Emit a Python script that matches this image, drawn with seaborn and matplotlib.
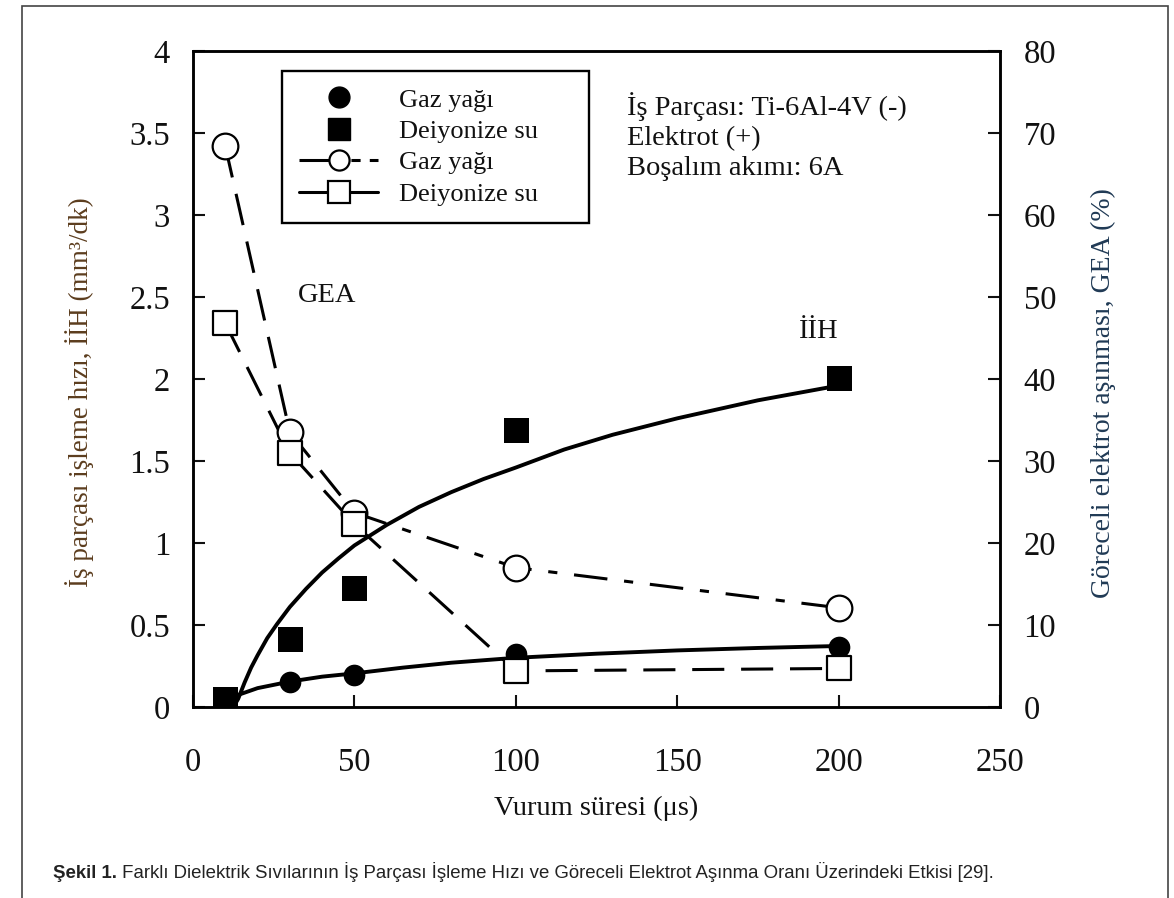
import matplotlib
matplotlib.use('Agg')
import matplotlib.pyplot as plt
from matplotlib.lines import Line2D
from matplotlib.patches import Rectangle
from matplotlib import font_manager
import seaborn as sns

# values
pulse_us = [10, 30, 50, 100, 200]
iih_gaz = [0.03, 0.155, 0.197, 0.323, 0.368]   # mm3/dk, filled circles
iih_su = [0.05, 0.415, 0.725, 1.69, 2.004]     # mm3/dk, filled squares
gea_gaz = [68.4, 33.5, 23.7, 17.0, 12.1]       # %, open circles
gea_su = [46.8, 31.0, 22.3, 4.4, 4.7]          # %, open squares

# trend curves through the IIH points
fit_su_x = [12.5, 14, 16, 18, 20, 23, 26, 30, 35, 40, 45, 50, 60, 70, 80, 90, 100,
            115, 130, 150, 175, 200]
fit_su_y = [0.0, 0.05, 0.15, 0.24, 0.315, 0.42, 0.505, 0.61, 0.72, 0.82, 0.905, 0.985,
            1.11, 1.22, 1.31, 1.39, 1.46, 1.57, 1.66, 1.76, 1.87, 1.96]
fit_gaz_x = [12, 20, 30, 40, 50, 65, 80, 100, 125, 150, 175, 200]
fit_gaz_y = [0.06, 0.115, 0.155, 0.185, 0.205, 0.24, 0.27, 0.3, 0.325, 0.345, 0.36, 0.372]

x_ticks = [0, 50, 100, 150, 200, 250]
left_ticks = [0, 0.5, 1, 1.5, 2, 2.5, 3, 3.5, 4]
left_ticklabels = ['0', '0.5', '1', '1.5', '2', '2.5', '3', '3.5', '4']
right_ticks = [0, 10, 20, 30, 40, 50, 60, 70, 80]

legend_labels = ['Gaz yağı', 'Deiyonize su', 'Gaz yağı', 'Deiyonize su']
info_text = 'İş Parçası: Ti-6Al-4V (-)\nElektrot (+)\nBoşalım akımı: 6A'
caption_bold = 'Şekil 1.'
caption_rest = (' Farklı Dielektrik Sıvılarının İş Parçası İşleme Hızı ve Göreceli '
                'Elektrot Aşınma Oranı Üzerindeki Etkisi [29].')

sns.set_style('ticks')
plt.rcParams['font.family'] = ['Liberation Serif', 'DejaVu Serif']
ink = '#111111'

W, H = 1174, 898
fig = plt.figure(figsize=(W / 100, H / 100), dpi=100)
ax = fig.add_axes([193 / W, 1 - 707 / H, 807 / W, 656 / H])
ax2 = ax.twinx()

dash = (0, (10.5, 5.5))
dashdot = (0, (11, 5.5, 3, 5.5))

# IIH curves and points (left axis)
sns.lineplot(x=fit_su_x, y=fit_su_y, ax=ax, color='black', lw=2.8, errorbar=None, zorder=2)
sns.lineplot(x=fit_gaz_x, y=fit_gaz_y, ax=ax, color='black', lw=2.8, errorbar=None, zorder=2)
sns.scatterplot(x=pulse_us, y=iih_gaz, ax=ax, marker='o', s=15.6 ** 2, color='black',
                edgecolor='black', linewidth=0, zorder=4)
sns.scatterplot(x=pulse_us, y=iih_su, ax=ax, marker='s', s=18 ** 2, color='black',
                edgecolor='black', linewidth=0, zorder=4)

# GEA lines and points (right axis)
sns.lineplot(x=pulse_us[:3], y=gea_gaz[:3], ax=ax2, color='black', lw=2.2,
             linestyle=dash, errorbar=None, zorder=2)
sns.lineplot(x=pulse_us[2:], y=gea_gaz[2:], ax=ax2, color='black', lw=2.2,
             linestyle=dashdot, errorbar=None, zorder=2)
sns.lineplot(x=pulse_us, y=gea_su, ax=ax2, color='black', lw=2.2,
             linestyle=dash, errorbar=None, zorder=2)
sns.scatterplot(x=pulse_us, y=gea_gaz, ax=ax2, marker='o', s=18.5 ** 2, color='white',
                edgecolor='black', linewidth=1.6, zorder=5)
sns.scatterplot(x=pulse_us, y=gea_su, ax=ax2, marker='s', s=17 ** 2, color='white',
                edgecolor='black', linewidth=1.6, zorder=5)

# axes
ax.set_xlim(0, 250)
ax.set_ylim(0, 4)
ax2.set_ylim(0, 80)
ax.set_xticks(x_ticks)
ax.set_yticks(left_ticks, left_ticklabels)
ax2.set_yticks(right_ticks)
ax.tick_params(axis='both', direction='in', length=8.5, width=1.5, labelsize=23.5,
               colors=ink, top=False, right=False)
ax.tick_params(axis='y', pad=16.5)
ax.tick_params(axis='x', pad=29)
ax2.tick_params(axis='y', direction='in', length=8.5, width=1.5, labelsize=23.5,
                colors=ink, pad=17, right=True)
for a in (ax, ax2):
    for sp in a.spines.values():
        sp.set_visible(True)
        sp.set_linewidth(1.8)
        sp.set_color('black')

ax.set_xlabel('Vurum süresi (μs)', fontsize=20.5, color=ink)
ax.xaxis.set_label_coords(0.5, -0.155)
ax.xaxis.label.set_va('center')
ax.set_ylabel('İş parçası işleme hızı, İİH (mm³/dk)', fontsize=19.5, color='#5c3d1e')
ax.yaxis.set_label_coords(-0.141, 0.48)
ax.yaxis.label.set_va('center')
ax2.set_ylabel('Göreceli elektrot aşınması, GEA (%)', fontsize=20, color='#203a55')
ax2.yaxis.set_label_coords(1.128, 0.479)
ax2.yaxis.label.set_va('center')

# annotations inside the plot
ax.text(134.6, 3.476, info_text, fontsize=20.5, color=ink, ha='left', va='center',
        linespacing=1.26)
ax.text(32.5, 2.51, 'GEA', fontsize=20.5, color=ink, ha='left', va='center')
ax.text(187.6, 2.29, 'İİH', fontsize=20.5, color=ink, ha='left', va='center')

# legend
handles = [
    Line2D([], [], ls='none', marker='o', ms=15, mfc='black', mec='black'),
    Line2D([], [], ls='none', marker='s', ms=16.5, mfc='black', mec='black'),
    Line2D([], [], color='black', lw=2.2, ls=(0, (14, 3, 3, 3)), marker='o', ms=14.5,
           mfc='white', mec='black', mew=1.6),
    Line2D([], [], color='black', lw=2.2, ls='-', marker='s', ms=16.5,
           mfc='white', mec='black', mew=1.6),
]
leg = ax2.legend(handles, legend_labels, loc='upper left',
                 bbox_to_anchor=(0.110, 0.741, 0.381, 0.2285), mode='expand',
                 frameon=True, fancybox=False, edgecolor='black', framealpha=1,
                 fontsize=19, handlelength=3.0, handletextpad=0.8, borderpad=0.65,
                 labelspacing=0.3, borderaxespad=0)
leg.get_frame().set_linewidth(1.7)
for t in leg.get_texts():
    t.set_color(ink)

# outer frame of the figure panel
fig.patches.append(Rectangle((22 / W, -0.02), (1168 - 22) / W, 1 - 6 / H + 0.02,
                             transform=fig.transFigure, fill=False, lw=1.2, ec='#444444'))

# caption
names = {f.name for f in font_manager.fontManager.ttflist}
if 'Liberation Sans Narrow' in names:
    cap_family, cap_size = ['Liberation Sans Narrow', 'DejaVu Sans'], 13
else:
    cap_family, cap_size = ['Liberation Sans', 'DejaVu Sans'], 13.4
t1 = fig.text(53 / W, 1 - 878 / H, caption_bold, family=cap_family, fontsize=cap_size,
              fontweight='bold', color='#222222', ha='left', va='baseline')
ax.annotate(caption_rest, xy=(1, 0), xycoords=t1, ha='left', va='bottom',
            family=cap_family, fontsize=cap_size, color='#222222', annotation_clip=False)

fig.savefig('out.png', dpi=100)
